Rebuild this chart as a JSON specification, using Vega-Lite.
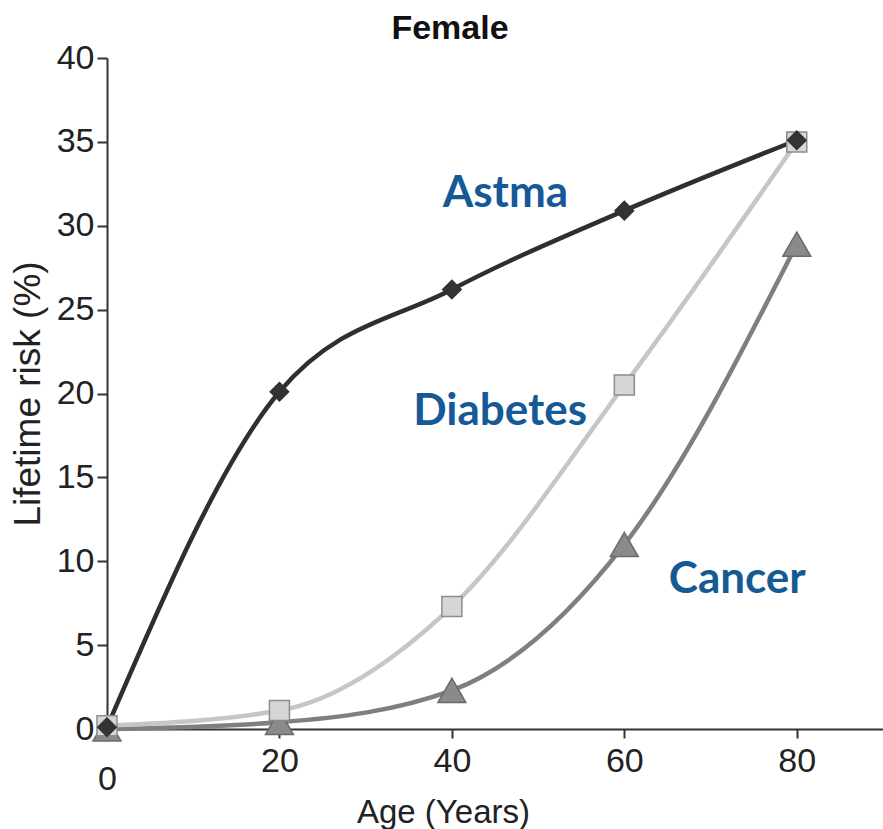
{
  "$schema": "https://vega.github.io/schema/vega-lite/v6.json",
  "width": 776,
  "height": 671,
  "autosize": {"type": "none"},
  "padding": {"left": 107, "top": 58, "right": 0, "bottom": 100},
  "background": "white",
  "config": {"view": {"stroke": null}, "font": "Liberation Sans"},
  "title": {"text": "Female", "fontSize": 34, "fontWeight": "bold", "font": "Liberation Sans", "color": "#111111", "anchor": "middle", "dx": -45, "offset": -5},
  "datasets": {
    "risk": [
      {"series": "Cancer", "age": 0, "risk": 0.0},
      {"series": "Cancer", "age": 20, "risk": 0.4},
      {"series": "Cancer", "age": 40, "risk": 2.3},
      {"series": "Cancer", "age": 60, "risk": 11.0},
      {"series": "Cancer", "age": 80, "risk": 28.9},
      {"series": "Diabetes", "age": 0, "risk": 0.2},
      {"series": "Diabetes", "age": 20, "risk": 1.1},
      {"series": "Diabetes", "age": 40, "risk": 7.3},
      {"series": "Diabetes", "age": 60, "risk": 20.5},
      {"series": "Diabetes", "age": 80, "risk": 35.0},
      {"series": "Astma", "age": 0, "risk": 0.1},
      {"series": "Astma", "age": 20, "risk": 20.1},
      {"series": "Astma", "age": 40, "risk": 26.2},
      {"series": "Astma", "age": 60, "risk": 30.9},
      {"series": "Astma", "age": 80, "risk": 35.1}
    ],
    "notes": [
      {"label": "Astma", "age": 46.2, "risk": 31.9},
      {"label": "Diabetes", "age": 45.6, "risk": 18.9},
      {"label": "Cancer", "age": 73.1, "risk": 8.9}
    ]
  },
  "layer": [
    {
      "data": {"name": "risk"},
      "mark": {"type": "line", "interpolate": "monotone", "strokeWidth": 4.5},
      "encoding": {
        "x": {
          "field": "age", "type": "quantitative",
          "scale": {"domain": [0, 90], "nice": false, "zero": false},
          "axis": {
            "values": [0, 20, 40, 60, 80],
            "title": "Age (Years)",
            "titleFont": "Liberation Sans",
            "titleFontSize": 33,
            "titleFontWeight": "normal",
            "titleColor": "#222222",
            "titleX": 336,
            "titleY": 93,
            "titleBaseline": "alphabetic",
            "labelFont": "Liberation Sans",
            "labelFontSize": 34,
            "labelColor": "#222222",
            "labelPadding": {"condition": {"test": "datum.value == 0", "value": 33}, "value": 6},
            "tickSize": {"condition": {"test": "datum.value == 0", "value": 0}, "value": 9},
            "tickColor": "#333333",
            "tickWidth": 2,
            "domainColor": "#333333",
            "domainWidth": 2,
            "grid": false,
            "labelFlush": false,
            "labelOverlap": false
          }
        },
        "y": {
          "field": "risk", "type": "quantitative",
          "scale": {"domain": [0, 40], "nice": false},
          "axis": {
            "values": [0, 5, 10, 15, 20, 25, 30, 35, 40],
            "title": "Lifetime risk (%)",
            "titleFont": "Liberation Sans",
            "titleFontSize": 37,
            "titleFontWeight": "normal",
            "titleColor": "#222222",
            "titleX": -68,
            "titleBaseline": "alphabetic",
            "labelFont": "Liberation Sans",
            "labelFontSize": 34,
            "labelColor": "#222222",
            "labelPadding": 3,
            "tickSize": 10,
            "tickColor": "#333333",
            "tickWidth": 2,
            "domainColor": "#333333",
            "domainWidth": 2,
            "grid": false,
            "labelOverlap": false
          }
        },
        "color": {
          "field": "series", "type": "nominal",
          "scale": {"domain": ["Cancer", "Diabetes", "Astma"], "range": ["#7f7f7f", "#c6c6c6", "#2f2f2f"]},
          "legend": null
        }
      }
    },
    {
      "data": {"name": "risk"},
      "transform": [{"filter": "datum.series == 'Cancer'"}],
      "mark": {"type": "point", "shape": "triangle-up", "filled": true, "size": 780, "fill": "#8a8a8a", "stroke": "#6a6a6a", "strokeWidth": 1.5, "opacity": 1},
      "encoding": {
        "x": {"field": "age", "type": "quantitative"},
        "y": {"field": "risk", "type": "quantitative"}
      }
    },
    {
      "data": {"name": "risk"},
      "transform": [{"filter": "datum.series == 'Diabetes'"}],
      "mark": {"type": "point", "shape": "square", "filled": true, "size": 400, "fill": "#d6d6d6", "stroke": "#8c8c8c", "strokeWidth": 1.5, "opacity": 1},
      "encoding": {
        "x": {"field": "age", "type": "quantitative"},
        "y": {"field": "risk", "type": "quantitative"}
      }
    },
    {
      "data": {"name": "risk"},
      "transform": [{"filter": "datum.series == 'Astma'"}],
      "mark": {"type": "point", "shape": "diamond", "filled": true, "size": 340, "fill": "#333333", "stroke": "#333333", "strokeWidth": 1.5, "opacity": 1},
      "encoding": {
        "x": {"field": "age", "type": "quantitative"},
        "y": {"field": "risk", "type": "quantitative"}
      }
    },
    {
      "data": {"name": "notes"},
      "mark": {"type": "text", "font": "Lato", "fontWeight": "bold", "fontSize": 44, "color": "#155a96", "align": "center", "baseline": "middle"},
      "encoding": {
        "x": {"field": "age", "type": "quantitative"},
        "y": {"field": "risk", "type": "quantitative"},
        "text": {"field": "label", "type": "nominal"}
      }
    }
  ]
}
